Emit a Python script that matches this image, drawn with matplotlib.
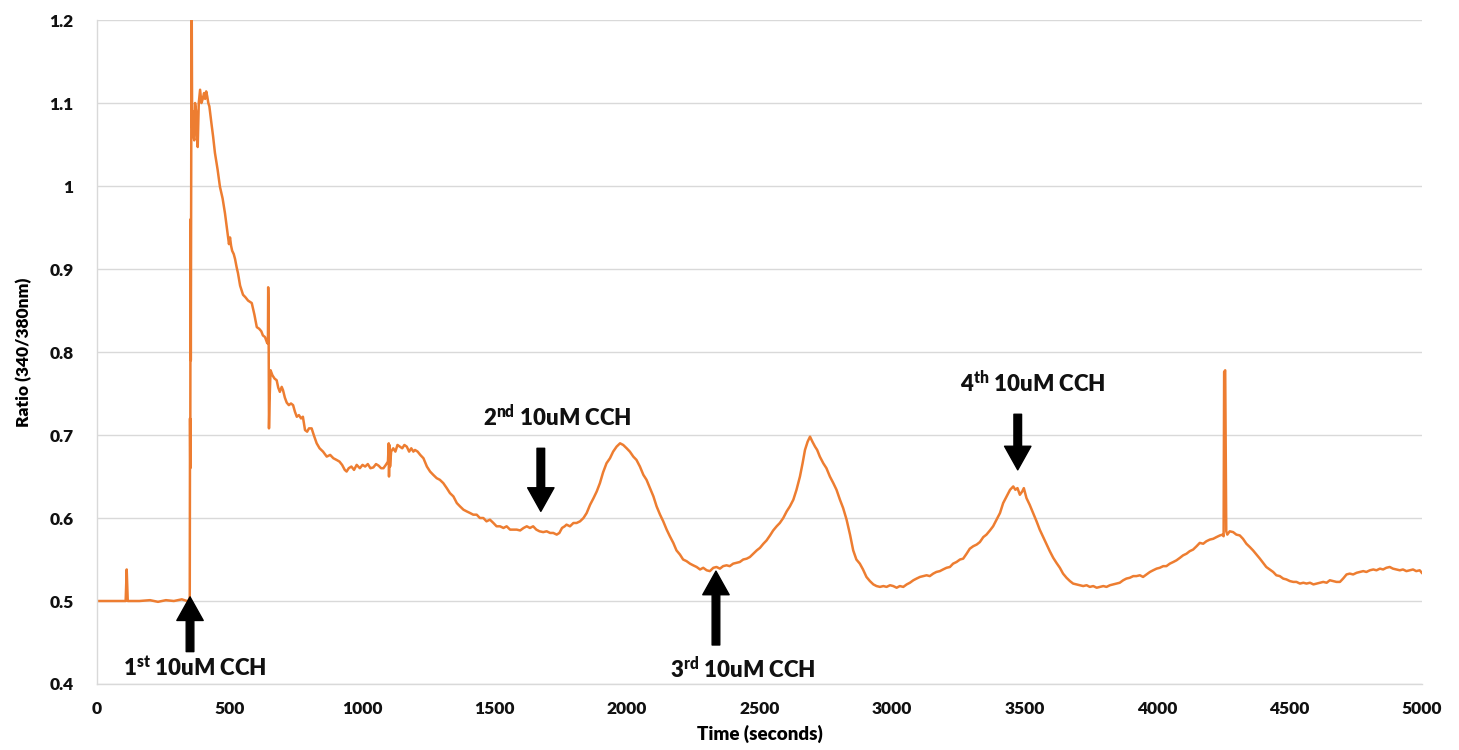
import matplotlib
matplotlib.use("Agg")
import matplotlib.pyplot as plt
from matplotlib.ticker import FuncFormatter, MultipleLocator

plt.rcParams['font.family'] = ['Lato', 'DejaVu Sans']
plt.rcParams['mathtext.fontset'] = 'custom'
plt.rcParams['mathtext.rm'] = 'Lato'
plt.rcParams['mathtext.bf'] = 'Lato:heavy'

# calcium trace, ratio 340/380 nm vs time (s)
time_s = [
    0, 60, 108, 112, 116, 160, 200, 230, 260, 290, 320, 340, 348,
    350, 351, 352, 353, 354, 355, 356, 357, 359, 361, 364, 367, 370, 374, 377, 380,
    384, 389, 394, 399, 404, 408, 412, 416, 420, 424, 428, 432, 438, 445, 455, 464,
    474, 483, 488, 494, 498, 502, 506, 510, 516, 521, 527, 532, 540, 551, 560, 570,
    584, 594, 603, 612, 620, 626, 634, 642, 645, 646, 647, 648, 649, 651, 655, 662,
    670, 678, 684, 690, 697, 702, 709, 716, 724, 732, 740, 747, 754, 762, 770, 777,
    785, 793, 800, 810, 818, 829, 840, 853, 867, 880, 892, 904, 915, 925, 935, 942,
    950, 960, 970, 980, 992, 1002, 1012, 1022, 1032, 1043, 1053, 1063, 1072, 1081,
    1090, 1098, 1101, 1102, 1104, 1106, 1110, 1118, 1126, 1134, 1143, 1152, 1160,
    1169, 1178, 1186, 1194, 1200, 1210, 1220, 1232, 1245, 1257, 1269, 1282, 1294,
    1307, 1320, 1332, 1345, 1358, 1370, 1383, 1395, 1408, 1420, 1433, 1445, 1458,
    1470, 1483, 1496, 1508, 1521, 1534, 1546, 1559, 1571, 1584, 1597, 1610, 1622,
    1634, 1646, 1658, 1670, 1684, 1697, 1710, 1722, 1735, 1745, 1755, 1765, 1772,
    1785, 1798, 1810, 1823, 1836, 1848, 1861, 1874, 1886, 1898, 1910, 1923, 1936,
    1948, 1961, 1974, 1986, 1999, 2011, 2024, 2036, 2049, 2062, 2074, 2087, 2100,
    2112, 2125, 2137, 2150, 2162, 2175, 2187, 2200, 2212, 2225, 2238, 2250, 2263,
    2276, 2288, 2301, 2313, 2326, 2338, 2351, 2363, 2376, 2388, 2401, 2414, 2426,
    2439, 2452, 2464, 2477, 2490, 2502, 2515, 2527, 2540, 2552, 2565, 2577, 2590,
    2603, 2615, 2628, 2640, 2653, 2663, 2672, 2682, 2691, 2700, 2710, 2718, 2728,
    2741, 2753, 2766, 2779, 2791, 2804, 2816, 2829, 2842, 2854, 2866, 2879, 2891,
    2904, 2917, 2930, 2942, 2955, 2968, 2980, 2993, 3005, 3018, 3030, 3043, 3056,
    3068, 3081, 3093, 3106, 3118, 3131, 3143, 3156, 3168, 3181, 3193, 3206, 3219,
    3231, 3244, 3257, 3269, 3282, 3294, 3307, 3320, 3332, 3345, 3357, 3370, 3382,
    3395, 3408, 3420, 3433, 3446, 3458, 3466, 3474, 3483, 3492, 3498, 3508, 3520,
    3533, 3546, 3558, 3571, 3584, 3596, 3609, 3621, 3634, 3646, 3659, 3672, 3684,
    3697, 3709, 3722, 3735, 3747, 3760, 3773, 3785, 3798, 3810, 3823, 3835, 3848,
    3860, 3873, 3885, 3898, 3911, 3923, 3936, 3948, 3961, 3974, 3986, 3999, 4011,
    4024, 4036, 4049, 4062, 4074, 4087, 4099, 4112, 4124, 4137, 4150, 4162, 4175,
    4187, 4200, 4213, 4225, 4238, 4248, 4252, 4254, 4258, 4262, 4266, 4275, 4288,
    4300, 4313, 4325, 4338, 4351, 4363, 4376, 4389, 4401, 4413, 4426, 4439, 4451,
    4464, 4477, 4489, 4502, 4515, 4527, 4540, 4553, 4565, 4578, 4591, 4603, 4616,
    4628, 4641, 4653, 4666, 4678, 4691, 4703, 4716, 4728, 4741, 4754, 4766, 4779,
    4791, 4804, 4817, 4829, 4842, 4854, 4866, 4879, 4891, 4904, 4917, 4929, 4942,
    4954, 4967, 4979, 4992, 5000,
]
ratio = [
    0.500, 0.500, 0.500, 0.538, 0.500, 0.500, 0.501, 0.499, 0.501, 0.500, 0.502, 0.500, 0.501,
    0.505, 0.720, 0.660, 0.960, 0.790, 0.930, 1.100, 1.250, 1.070, 1.090, 1.060, 1.055, 1.100, 1.090, 1.060, 1.047,
    1.100, 1.116, 1.100, 1.105, 1.112, 1.105, 1.114, 1.108, 1.100, 1.096, 1.085, 1.075, 1.060, 1.040, 1.020, 0.999,
    0.985, 0.967, 0.955, 0.940, 0.930, 0.938, 0.928, 0.922, 0.918, 0.912, 0.902, 0.895, 0.880, 0.869, 0.866, 0.862,
    0.859, 0.845, 0.830, 0.828, 0.825, 0.820, 0.818, 0.811, 0.810, 0.878, 0.860, 0.800, 0.708, 0.740, 0.778, 0.772,
    0.768, 0.766, 0.757, 0.752, 0.758, 0.754, 0.745, 0.739, 0.736, 0.738, 0.736, 0.728, 0.722, 0.724, 0.720, 0.722,
    0.706, 0.704, 0.708, 0.708, 0.700, 0.690, 0.684, 0.680, 0.674, 0.676, 0.672, 0.670, 0.668, 0.664, 0.658, 0.656,
    0.660, 0.662, 0.658, 0.664, 0.660, 0.664, 0.662, 0.665, 0.660, 0.661, 0.665, 0.663, 0.660, 0.660,
    0.664, 0.668, 0.690, 0.650, 0.688, 0.662, 0.680, 0.684, 0.680, 0.688, 0.686, 0.684, 0.688,
    0.686, 0.680, 0.684, 0.680, 0.682, 0.680, 0.676, 0.672, 0.662, 0.656, 0.652, 0.648, 0.646,
    0.642, 0.636, 0.630, 0.626, 0.618, 0.614, 0.610, 0.608, 0.606, 0.604, 0.604, 0.600, 0.600,
    0.596, 0.598, 0.594, 0.590, 0.590, 0.588, 0.590, 0.586, 0.586, 0.586, 0.585, 0.588, 0.590,
    0.588, 0.590, 0.586, 0.584, 0.583, 0.584, 0.582, 0.582, 0.580, 0.582, 0.588, 0.590, 0.592,
    0.590, 0.594, 0.594, 0.596, 0.600, 0.606, 0.616, 0.624, 0.632, 0.642, 0.655, 0.666, 0.672,
    0.680, 0.686, 0.690, 0.688, 0.684, 0.680, 0.674, 0.670, 0.662, 0.652, 0.646, 0.636, 0.626,
    0.614, 0.604, 0.596, 0.586, 0.578, 0.570, 0.561, 0.556, 0.550, 0.548, 0.545, 0.543, 0.541,
    0.538, 0.540, 0.537, 0.536, 0.540, 0.541, 0.539, 0.542, 0.543, 0.542, 0.545, 0.546, 0.547,
    0.550, 0.551, 0.553, 0.557, 0.561, 0.564, 0.569, 0.573, 0.579, 0.585, 0.590, 0.594, 0.600,
    0.608, 0.614, 0.622, 0.634, 0.650, 0.666, 0.682, 0.692, 0.698, 0.692, 0.686, 0.682, 0.674,
    0.666, 0.660, 0.650, 0.642, 0.634, 0.622, 0.612, 0.598, 0.580, 0.561, 0.550, 0.545, 0.538,
    0.529, 0.524, 0.520, 0.518, 0.517, 0.518, 0.517, 0.519, 0.518, 0.516, 0.518, 0.517, 0.520,
    0.522, 0.525, 0.527, 0.529, 0.530, 0.531, 0.530, 0.533, 0.535, 0.536, 0.538, 0.540, 0.541,
    0.545, 0.547, 0.550, 0.551, 0.557, 0.563, 0.566, 0.568, 0.571, 0.577, 0.580, 0.585, 0.590,
    0.598, 0.606, 0.618, 0.626, 0.634, 0.638, 0.634, 0.636, 0.628, 0.632, 0.636, 0.624, 0.616,
    0.606, 0.596, 0.586, 0.577, 0.568, 0.560, 0.552, 0.546, 0.540, 0.533, 0.528, 0.524, 0.521,
    0.520, 0.519, 0.518, 0.519, 0.517, 0.518, 0.516, 0.517, 0.518, 0.517, 0.519, 0.520, 0.521,
    0.522, 0.525, 0.527, 0.528, 0.530, 0.530, 0.531, 0.529, 0.532, 0.535, 0.537, 0.539, 0.540,
    0.542, 0.542, 0.545, 0.547, 0.549, 0.552, 0.555, 0.557, 0.560, 0.562, 0.566, 0.570, 0.569,
    0.572, 0.574, 0.575, 0.577, 0.579, 0.580, 0.578, 0.776, 0.778, 0.584, 0.580, 0.584, 0.583,
    0.580, 0.579, 0.575, 0.569, 0.565, 0.561, 0.556, 0.551, 0.546, 0.541, 0.538, 0.535, 0.531,
    0.530, 0.527, 0.526, 0.524, 0.523, 0.523, 0.521, 0.522, 0.521, 0.522, 0.520, 0.521, 0.522,
    0.523, 0.522, 0.525, 0.524, 0.523, 0.523, 0.527, 0.532, 0.533, 0.532, 0.534, 0.535, 0.536,
    0.535, 0.537, 0.538, 0.537, 0.539, 0.538, 0.540, 0.541, 0.539, 0.538, 0.537, 0.538, 0.536,
    0.537, 0.538, 0.536, 0.537, 0.534,
]

# CCH additions: label, superscript, time, arrow tail/tip, text position
doses = ['1', '2', '3', '4']
suffixes = ['st', 'nd', 'rd', 'th']
dose_t = [351, 1675, 2336, 3475]
arrow_tail = [0.439, 0.684, 0.447, 0.725]
arrow_tip = [0.505, 0.608, 0.536, 0.658]
label_t = [370, 1736, 2438, 3532]
label_y = [0.419, 0.722, 0.419, 0.763]

fig = plt.figure(figsize=(14.59, 7.5), dpi=100)
ax = fig.add_axes([0.0665, 0.088, 0.908, 0.8853])

ax.plot(time_s, ratio, color='#ED7D31', lw=1.8, solid_joinstyle='round')

for d, s, t, y0, y1, tx, ty in zip(doses, suffixes, dose_t, arrow_tail, arrow_tip, label_t, label_y):
    ax.annotate('', xy=(t, y1), xytext=(t, y0),
                arrowprops=dict(facecolor='black', edgecolor='black', width=5.5,
                                headwidth=19, headlength=17, shrink=0))
    ax.text(tx, ty, d + r'$^{\mathbf{' + s + r'}}$ 10uM CCH', ha='center', va='center',
            fontsize=16, fontweight='heavy', color='#111111')

ax.set_xlim(0, 5000)
ax.set_ylim(0.4, 1.2)
ax.xaxis.set_major_locator(MultipleLocator(500))
ax.yaxis.set_major_locator(MultipleLocator(0.1))
ax.yaxis.set_major_formatter(FuncFormatter(lambda v, p: f"{v:g}"))
ax.grid(True, axis='y', color='#D9D9D9', lw=1)
ax.set_axisbelow(True)
for side in ['top', 'right']:
    ax.spines[side].set_visible(False)
for side in ['left', 'bottom']:
    ax.spines[side].set_color('#D9D9D9')
    ax.spines[side].set_linewidth(1)
ax.tick_params(length=0, labelsize=12.5, colors='#111111')
ax.tick_params(axis='y', pad=17)
ax.tick_params(axis='x', pad=12)
for lbl in ax.get_xticklabels() + ax.get_yticklabels():
    lbl.set_fontweight('heavy')

ax.set_xlabel('Time (seconds)', fontsize=13.5, fontweight='heavy', labelpad=6)
ax.set_ylabel('Ratio (340/380nm)', fontsize=12.5, fontweight='heavy', labelpad=12)

fig.savefig('out.png', dpi=100)
